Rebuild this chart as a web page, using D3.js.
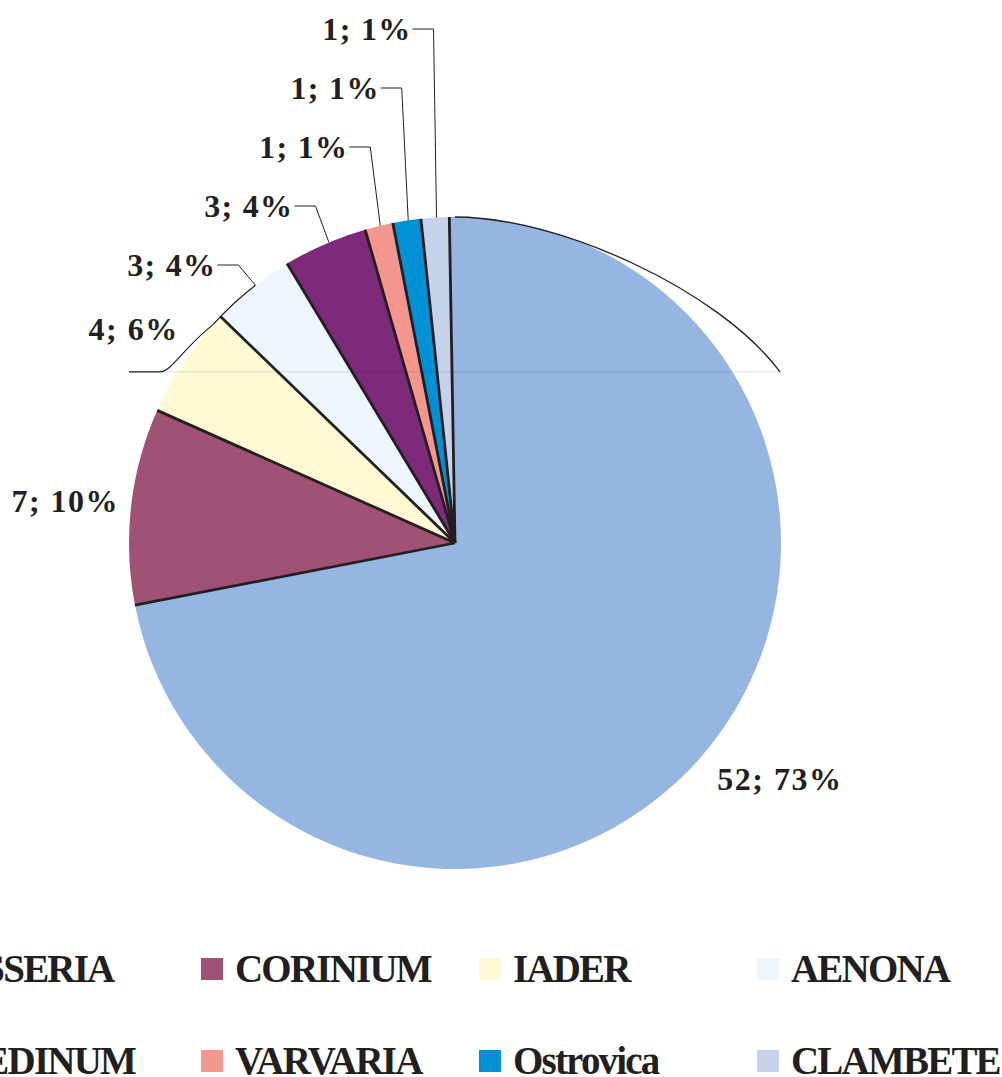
<!DOCTYPE html>
<html>
<head>
<meta charset="utf-8">
<script src="https://cdn.jsdelivr.net/npm/d3@7"></script>
<style>
  body { margin: 0; background: #fff; }
  svg { display: block; }
  text { font-family: "Liberation Serif", "Times New Roman", serif; font-weight: bold; fill: #231f20; }
</style>
</head>
<body>
<div id="chart"></div>
<script>
// site names, counts and the percent text shown on the chart
const names = ["ASSERIA", "CORINIUM", "IADER", "AENONA", "NEDINUM", "VARVARIA", "Ostrovica", "CLAMBETE"];
const counts = [52, 7, 4, 3, 3, 1, 1, 1];
const shares = ["73%", "10%", "6%", "4%", "4%", "1%", "1%", "1%"];
const colors = ["#95b6e0", "#a05274", "#fff9d4", "#eef6fd", "#7e2a7b", "#f4968e", "#0090d5", "#c6d2ea"];

const data = names.map((n, i) => ({name: n, count: counts[i], share: shares[i], color: colors[i]}));

const W = 1002, H = 1077;
const cx = 455, cy = 543, r = 326;
const deg = Math.PI / 180;
const ink = "#231f20";

const svg = d3.select('#chart').append('svg')
    .attr('width', W)
    .attr('height', H);

const pie = d3.pie()
    .sort(null)
    .value(d => d.count)
    .startAngle(-1 * deg)
    .endAngle(359 * deg);

const arcs = pie(data);
const arc = d3.arc().innerRadius(0).outerRadius(r);

// point on a circle round the pie centre, angle from 12 o'clock clockwise
const pt = (a, rad) => [cx + rad * Math.sin(a), cy - rad * Math.cos(a)];

const g = svg.append('g').attr('transform', `translate(${cx},${cy})`);

//Slices
g.selectAll('path.slice')
    .data(arcs)
    .enter().append('path')
    .attr('class', 'slice')
    .attr('d', arc)
    .attr('fill', d => d.data.color);

//Slice borders (only the radial edges are drawn)
g.selectAll('line.edge')
    .data(arcs)
    .enter().append('line')
    .attr('class', 'edge')
    .attr('x1', 0).attr('y1', 0)
    .attr('x2', d => r * Math.sin(d.startAngle))
    .attr('y2', d => -r * Math.cos(d.startAngle))
    .attr('stroke', ink)
    .attr('stroke-width', 2.8);

//Stray guide lines left in the original figure
const yGuide = cy - 0.525 * r;
svg.append('line')
    .attr('x1', cx - 1.0 * r).attr('x2', cx + 0.997 * r)
    .attr('y1', yGuide).attr('y2', yGuide)
    .attr('stroke', '#000').attr('stroke-opacity', 0.12).attr('stroke-width', 1);

const topArc = d3.path();
topArc.moveTo(cx, cy - r);
topArc.bezierCurveTo(cx + 0.32 * r, cy - r, cx + 0.81 * r, cy - r + 73, cx + 0.997 * r, yGuide);
svg.append('path')
    .attr('d', topArc.toString())
    .attr('fill', 'none').attr('stroke', ink).attr('stroke-width', 1.3);

const aen = arcs[3];
const aenAttach = aen.startAngle + 0.55 * (aen.endAngle - aen.startAngle);
const joinA = 312 * deg;
const join = pt(joinA, r);
const leftArc = d3.path();
leftArc.moveTo(cx - 1.0 * r, yGuide);
leftArc.lineTo(cx - 0.905 * r, yGuide);
leftArc.bezierCurveTo(cx - 0.87 * r, yGuide, cx - 0.83 * r, yGuide - 25, join[0], join[1]);
leftArc.arc(cx, cy, r, joinA - Math.PI / 2, aenAttach - Math.PI / 2);
svg.append('path')
    .attr('d', leftArc.toString())
    .attr('fill', 'none').attr('stroke', ink).attr('stroke-width', 1.2);

//Stacked labels with leader lines for the small slices
const stackTop = cy - r - 188, stackGap = 59;
arcs.slice(3).forEach((d, i) => {
    const k = arcs.length - 1 - (i + 3);
    const a = d.startAngle + 0.55 * (d.endAngle - d.startAngle);
    const p = pt(a, r);
    const ly = stackTop + stackGap * k;
    const ex = p[0] - 3 - 3.5 * k;
    svg.append('path')
        .attr('d', `M${p[0]},${p[1]}L${ex},${ly}H${ex - 21}`)
        .attr('fill', 'none').attr('stroke', ink).attr('stroke-width', 1);
    svg.append('text')
        .attr('x', ex - 22).attr('y', ly + 10.5)
        .attr('text-anchor', 'end')
        .attr('font-size', 32)
        .attr('letter-spacing', 1.3)
        .text(`${d.data.count}; ${d.data.share}`);
});

//Labels for the big slices
const bigOffsets = [[9, 42, 'start'], [-12, 6, 'end'], [-6, -21, 'end']];
arcs.slice(0, 3).forEach((d, i) => {
    const p = pt((d.startAngle + d.endAngle) / 2, r);
    svg.append('text')
        .attr('x', p[0] + bigOffsets[i][0])
        .attr('y', p[1] + bigOffsets[i][1])
        .attr('text-anchor', bigOffsets[i][2])
        .attr('font-size', 32)
        .attr('letter-spacing', 1.5)
        .text(`${d.data.count}; ${d.data.share}`);
});

//Legend, 4 columns x 2 rows, first column runs off the left edge
const legX = -77, legColW = 278, legY = 958, legRowH = 92;
const leg = svg.append('g')
    .selectAll('g')
    .data(data)
    .enter().append('g')
    .attr('transform', (d, i) => `translate(${legX + (i % 4) * legColW},${legY + Math.floor(i / 4) * legRowH})`);

leg.append('rect')
    .attr('width', 22).attr('height', 22)
    .attr('fill', d => d.color);

leg.append('text')
    .attr('x', 34).attr('y', 24)
    .attr('font-size', 39)
    .attr('letter-spacing', -1.8)
    .text(d => d.name);
</script>
</body>
</html>
